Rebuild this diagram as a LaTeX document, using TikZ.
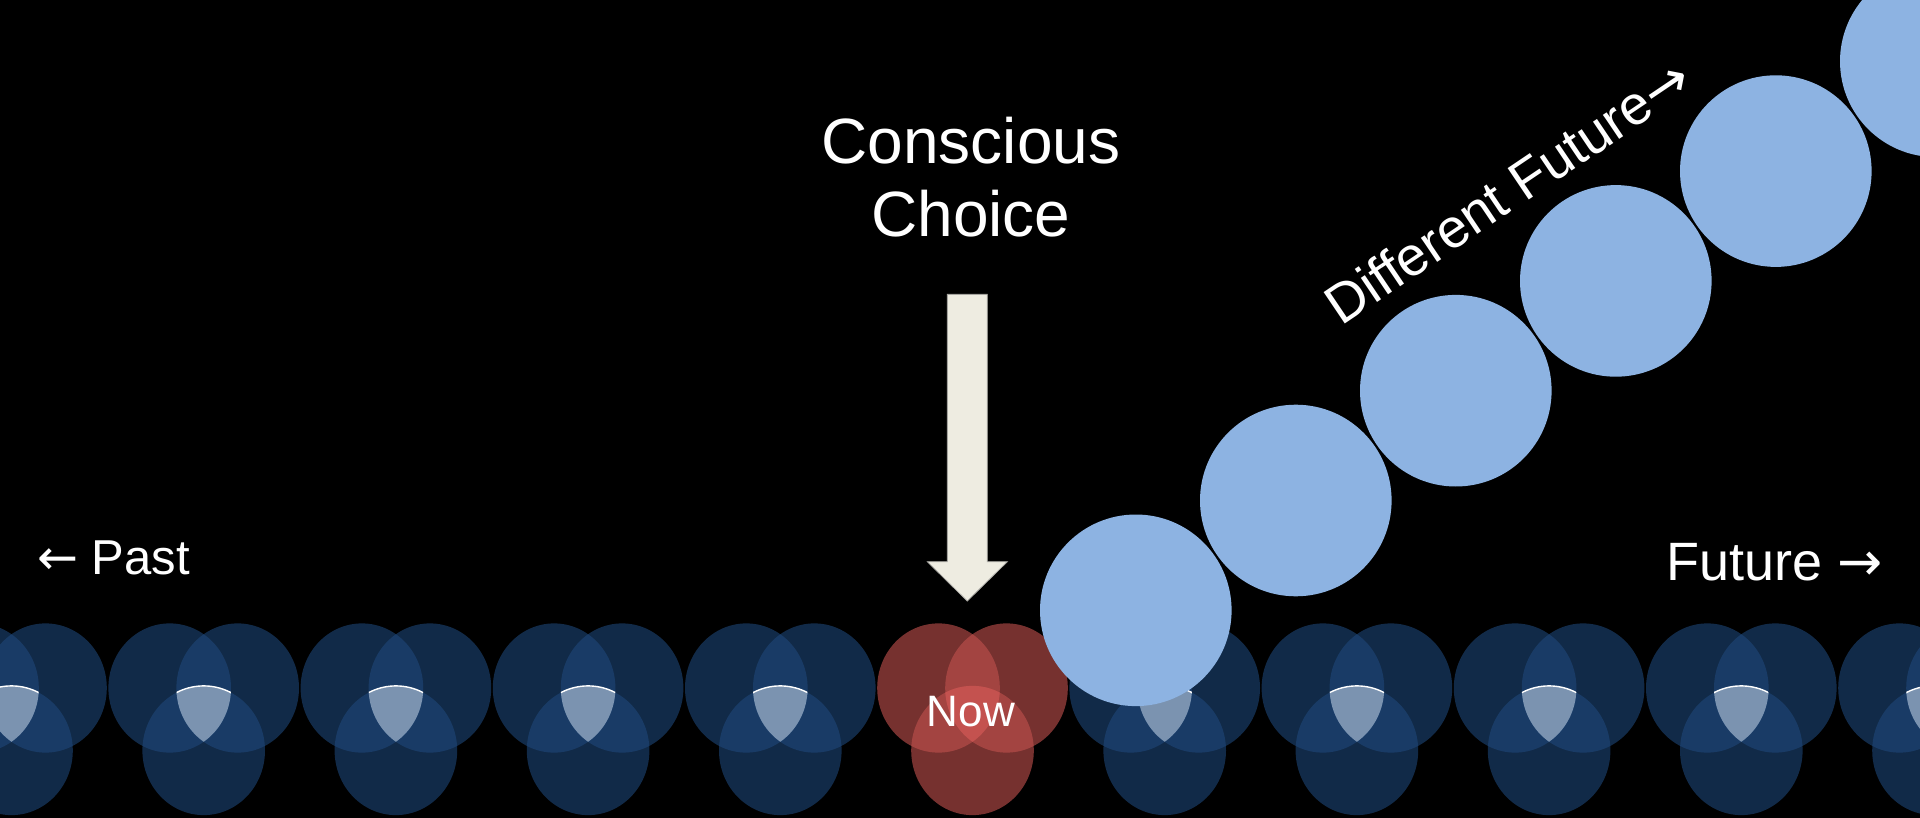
\documentclass[tikz,border=0pt]{standalone}
\usepackage{fontspec}
\setmainfont{Liberation Sans}
\newfontfamily\arrowfont{DejaVu Sans}
\usetikzlibrary{positioning}

\definecolor{navy}{HTML}{1F497D}
\definecolor{paleblue}{HTML}{8DB3E2}
\definecolor{triblue}{HTML}{7B93B0}
\definecolor{nowred}{HTML}{C0504D}
\definecolor{trired}{HTML}{C4524F}
\definecolor{cream}{HTML}{EEECE1}

\tikzset{
  futuredisc/.style={circle, fill=paleblue, minimum size=191.6pt, inner sep=0pt},
  labeltext/.style={text=white, inner sep=0pt},
}

% three overlapping discs: #1 centre x, #2 colour, #3 opacity, #4 style of the middle part
\newcommand{\timecluster}[4]{%
  \foreach \dx/\dy in {-34/688, 34/688, 0/750.5}
    \fill[#2, fill opacity=#3] (#1+\dx,\dy) ellipse (61.3 and 64.6);
  \begin{scope}
    \clip (#1-34,688) ellipse (61.3 and 64.6);
    \clip (#1+34,688) ellipse (61.3 and 64.6);
    \path[#4] (#1,750.5) ellipse (61.3 and 64.6);
  \end{scope}
}

\begin{document}
\begin{tikzpicture}[x=1pt, y=-1pt]
        % Background
        \useasboundingbox (0,0) rectangle (1920,818);
        \fill[black] (0,0) rectangle (1920,818);
        \clip (0,0) rectangle (1920,818);

        % Draw the row of clusters, the red one is now
        \foreach \k in {0,...,10} {
          \pgfmathsetmacro{\cx}{11.5+192.2*\k}
          \ifnum\k=5
            \timecluster{\cx}{nowred}{0.62}{fill=trired}
          \else
            \timecluster{\cx}{navy}{0.58}{fill=triblue, draw=white, line width=1.4pt}
          \fi
        }

        % Draw the block arrow
        \filldraw[fill=cream, draw=gray!60!cream, line width=0.8pt]
          (947.3,294.3) -- (987.3,294.3) -- (987.3,561.7) -- (1007.3,561.7)
          -- (967.3,601) -- (927.3,561.7) -- (947.3,561.7) -- cycle;

        % Draw the rising chain of discs
        \foreach \k in {0,...,5}
          \node[futuredisc] (fut\k) at (1135.8+160*\k, 610.3-109.8*\k) {};

        % Labels
        \node[labeltext, font=\fontsize{64}{73}\selectfont, align=center, anchor=base] (choice) at (971,237) {Conscious\\Choice};
        \node[labeltext, font=\fontsize{44}{52}\selectfont, anchor=base] (now) at (971,726) {Now};
        \node[labeltext, font=\fontsize{49}{58}\selectfont, anchor=base west] (past) at (37,574.3) {{\arrowfont ←} Past};
        \node[labeltext, font=\fontsize{54}{62}\selectfont, anchor=base east] (future) at (1883,580) {Future {\arrowfont →}};
        \node[labeltext, font=\fontsize{55}{62}\selectfont, anchor=base west, rotate=34] (difffuture) at (1341,327) {Different Future{\arrowfont →}};
\end{tikzpicture}
\end{document}
